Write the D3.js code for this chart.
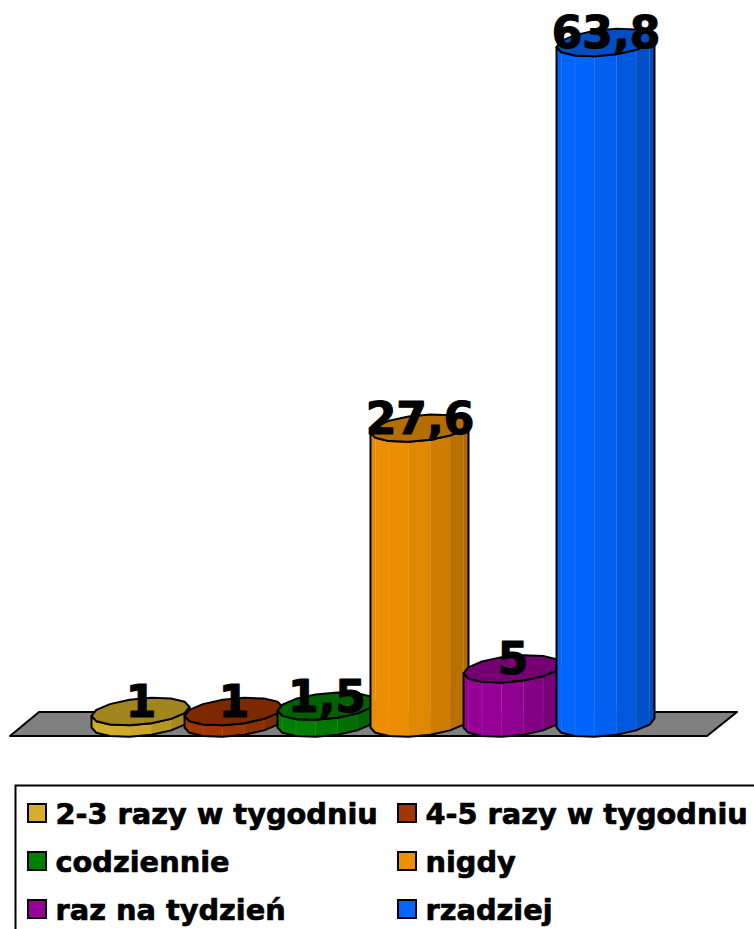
<!DOCTYPE html>
<html><head><meta charset="utf-8"><style>html,body{margin:0;padding:0;background:#fff;overflow:hidden}svg{display:block}</style>
<script src="https://cdn.jsdelivr.net/npm/d3@7"></script></head><body>
<svg id="c" width="754" height="929"></svg>
<script>
const categories=["2-3 razy w tygodniu","4-5 razy w tygodniu","codziennie","nigdy","raz na tydzień","rzadziej"];
const values=[1,1,1.5,27.6,5,63.8];
const valueLabels=["1","1","1,5","27,6","5","63,8"];
const colors=["#d4af27","#a33600","#008000","#ee9000","#990099","#0066ff"];
const axisFloor=-0.08;
const font='"DejaVu Sans",Verdana,sans-serif';
const svg=d3.select("#c");
const x=d3.scaleBand().domain(categories).range([94,652]);
const y=d3.scaleLinear().domain([axisFloor,63.8]).range([723,42.5]);
const rx=49,ry=13,tilt=4.5,N=14;
svg.append("polygon").attr("points","10,736 39,712 737,712 707,736").attr("fill","#808080").attr("stroke","#000").attr("stroke-width",2).attr("stroke-linejoin","round");
const pt=(c,cy,t)=>[c+rx*Math.cos(t),cy-tilt*Math.cos(t)+ry*Math.sin(t)];
categories.forEach((cat,i)=>{
  const c=x(cat)+x.bandwidth()/2, top=y(values[i]), base=y(axisFloor), g=svg.append("g");
  const shade=d3.scaleLinear().domain([c-rx,c-rx*0.55,c+rx*0.2,c+rx]).range([0.97,1,0.92,0.72]);
  const col=f=>{const k=d3.rgb(colors[i]);return d3.rgb(k.r*f,k.g*f,k.b*f).formatHex();};
  const lower=d3.range(N/2+1).map(k=>Math.PI-k*2*Math.PI/N);
  for(let k=0;k<N/2;k++){
    const a=pt(c,top,lower[k]),b=pt(c,top,lower[k+1]),d=pt(c,base,lower[k+1]),e=pt(c,base,lower[k]);
    const f=col(shade((a[0]+b[0])/2));
    g.append("polygon").attr("points",[a,b,d,e].join(" ")).attr("fill",f).attr("stroke",f).attr("stroke-width",.5);
    if(k>0) g.append("line").attr("x1",a[0]).attr("x2",a[0]).attr("y1",a[1]).attr("y2",e[1]).attr("stroke","#fff").attr("stroke-opacity",.1).attr("stroke-width",1);
  }
  const outline=[...lower.map(t=>pt(c,top,t)),...lower.slice().reverse().map(t=>pt(c,base,t))];
  g.append("polygon").attr("points",outline.join(" ")).attr("fill","none").attr("stroke","#000").attr("stroke-width",2).attr("stroke-linejoin","round");
  const cap=d3.range(N).map(k=>pt(c,top,k*2*Math.PI/N));
  g.append("polygon").attr("points",cap.join(" ")).attr("fill",col(0.76)).attr("stroke","#000").attr("stroke-width",2).attr("stroke-linejoin","round");
});
categories.forEach((cat,i)=>{
  svg.append("text").attr("x",x(cat)+x.bandwidth()/2+.5).attr("y",y(values[i])+5.5).attr("text-anchor","middle")
   .attr("font-family",font).attr("font-weight","bold").attr("font-size",44).attr("fill","#000")
   .attr("stroke","#000").attr("stroke-width",1.2).attr("stroke-linejoin","round").text(valueLabels[i]);
});
svg.append("rect").attr("x",15.5).attr("y",785.5).attr("width",800).attr("height",200).attr("fill","#fff").attr("stroke","#000").attr("stroke-width",2);
const colX=[27,397],rowY=[803,851,899];
categories.forEach((cat,i)=>{
  const sx=colX[i%2],sy=rowY[Math.floor(i/2)];
  svg.append("rect").attr("x",sx+1).attr("y",sy+1).attr("width",18).attr("height",18).attr("fill",colors[i]).attr("stroke","#000").attr("stroke-width",2);
  svg.append("text").attr("x",sx+28.5).attr("y",sy+20.5).attr("font-family",font).attr("font-weight","bold").attr("font-size",28.8).attr("fill","#000")
   .attr("stroke","#000").attr("stroke-width",.7).attr("stroke-linejoin","round").text(cat);
});
</script></body></html>
